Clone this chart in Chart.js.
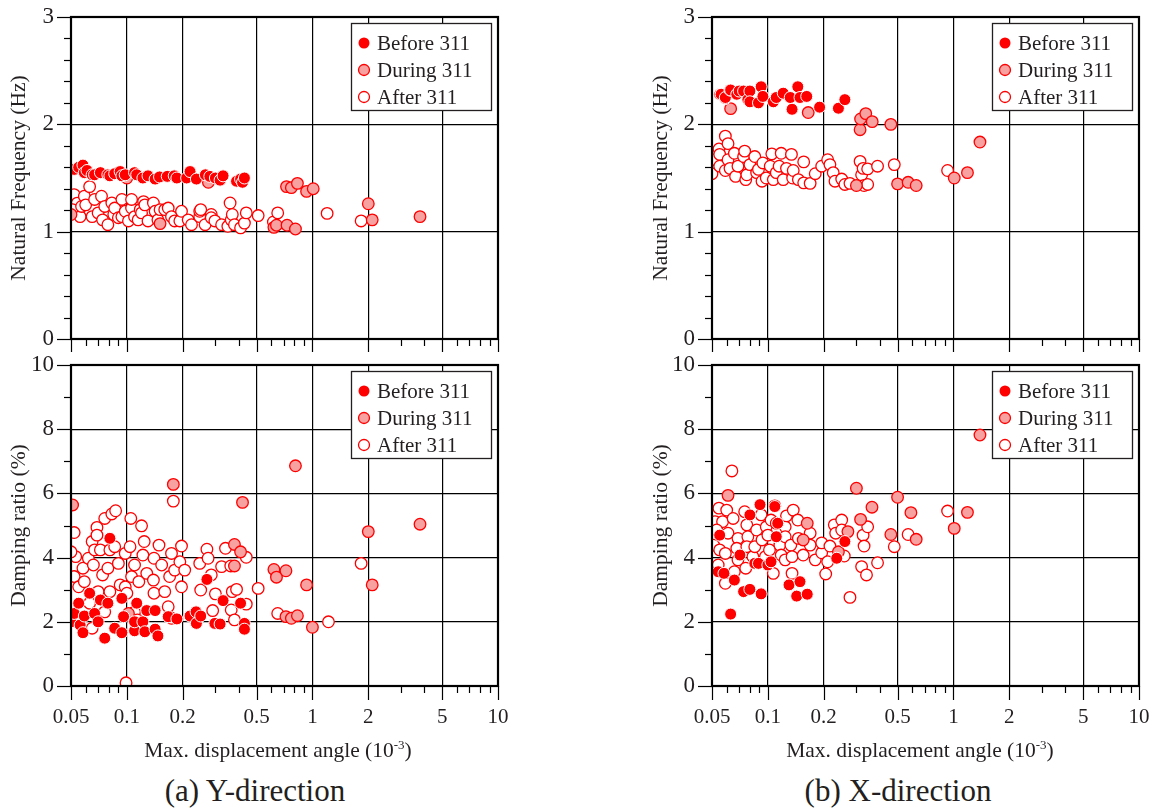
<!DOCTYPE html>
<html>
<head>
<meta charset="utf-8">
<script src="https://cdn.jsdelivr.net/npm/chart.js@4.4.1/dist/chart.umd.min.js"></script>
<style>
  body { margin: 0; background: #fff; }
  #page { position: relative; width: 1149px; height: 808px; background: #fff; overflow: hidden;
          font-family: 'Liberation Serif', 'Times New Roman', serif; color: #231f20; }
  canvas { position: absolute; }
  .xtitle, .caption { position: absolute; width: 400px; text-align: center; white-space: nowrap; line-height: 1; }
  .xtitle { font-size: 21.5px; top: 738px; }
  .xtitle sup { font-size: 13px; vertical-align: 8px; }
  .caption { font-size: 31px; top: 775px; }
</style>
</head>
<body>
<div id="page">
  <canvas id="yFreq"></canvas>
  <canvas id="yDamp"></canvas>
  <canvas id="xFreq"></canvas>
  <canvas id="xDamp"></canvas>
  <div class="xtitle" style="left:78px">Max. displacement angle (10<sup>-3</sup>)</div>
  <div class="xtitle" style="left:720px">Max. displacement angle (10<sup>-3</sup>)</div>
  <div class="caption" style="left:55px">(a) Y-direction</div>
  <div class="caption" style="left:698px">(b) X-direction</div>
</div>
<script>
const seriesNames = ['Before 311', 'During 311', 'After 311'];

const xMajorTicks = [0.05, 0.1, 0.2, 0.5, 1, 2, 5, 10];
const xMinorTicks = [0.06, 0.07, 0.08, 0.09, 0.3, 0.4, 0.6, 0.7, 0.8, 0.9, 3, 4, 6, 7, 8, 9];
const freqTicks = [0, 0.2, 0.4, 0.6, 0.8, 1, 1.2, 1.4, 1.6, 1.8, 2, 2.2, 2.4, 2.6, 2.8, 3];
const freqLabels = [0, 1, 2, 3];
const dampTicks = [0, 1, 2, 3, 4, 5, 6, 7, 8, 9, 10];
const dampLabels = [0, 2, 4, 6, 8, 10];

// Y-direction: [max. displacement angle (1e-3), natural frequency (Hz)]
const yFreqBefore = [[0.052,1.58],[0.055,1.60],[0.058,1.62],[0.059,1.55],[0.061,1.57],[0.065,1.53],[0.067,1.53],[0.072,1.55],
  [0.079,1.53],[0.081,1.52],[0.086,1.54],[0.092,1.56],[0.094,1.52],[0.098,1.53],[0.11,1.55],[0.113,1.53],[0.122,1.50],
  [0.13,1.52],[0.142,1.49],[0.15,1.51],[0.165,1.515],[0.18,1.52],[0.186,1.50],[0.21,1.50],[0.219,1.56],[0.237,1.49],
  [0.265,1.53],[0.28,1.515],[0.3,1.50],[0.318,1.48],[0.33,1.52],[0.39,1.47],[0.41,1.49],[0.42,1.46],[0.43,1.50]];
const yFreqDuring = [[0.05,1.16],[0.1,1.50],[0.151,1.075],[0.275,1.46],[0.62,1.04],[0.64,1.06],[0.725,1.42],[0.77,1.41],
  [0.73,1.06],[0.81,1.025],[0.83,1.45],[0.93,1.375],[1.01,1.40],[2.0,1.26],[2.1,1.11],[3.8,1.14]];
const yFreqAfter = [[0.052,1.345],[0.054,1.266],[0.051,1.205],[0.056,1.14],[0.057,1.235],[0.059,1.33],[0.06,1.25],[0.063,1.42],
  [0.065,1.14],[0.067,1.30],[0.07,1.175],[0.073,1.33],[0.074,1.11],[0.076,1.235],[0.079,1.065],[0.083,1.267],[0.085,1.16],
  [0.086,1.22],[0.09,1.13],[0.094,1.30],[0.094,1.14],[0.098,1.19],[0.102,1.10],[0.106,1.22],[0.106,1.30],[0.11,1.14],
  [0.115,1.11],[0.118,1.205],[0.12,1.175],[0.123,1.28],[0.125,1.25],[0.13,1.10],[0.139,1.267],[0.142,1.19],[0.147,1.11],
  [0.151,1.205],[0.16,1.205],[0.167,1.22],[0.174,1.14],[0.181,1.10],[0.193,1.10],[0.197,1.19],[0.214,1.11],[0.223,1.065],
  [0.247,1.14],[0.247,1.19],[0.25,1.205],[0.264,1.065],[0.285,1.16],[0.285,1.13],[0.298,1.10],[0.324,1.065],[0.35,1.05],
  [0.36,1.267],[0.365,1.11],[0.37,1.16],[0.38,1.065],[0.41,1.035],[0.43,1.08],[0.44,1.175],[0.51,1.15],[0.616,1.09],
  [0.65,1.175],[1.2,1.17],[1.83,1.10]];

// Y-direction: [max. displacement angle (1e-3), damping ratio (%)]
const yDampBefore = [[0.05,2.0],[0.052,2.26],[0.055,2.58],[0.056,1.9],[0.058,1.66],[0.059,2.18],[0.063,2.89],[0.067,2.26],
  [0.07,2.0],[0.072,2.68],[0.076,1.49],[0.079,2.58],[0.081,4.6],[0.086,1.80],[0.094,1.66],[0.094,2.73],[0.096,2.16],
  [0.11,1.72],[0.11,2.0],[0.113,2.58],[0.122,2.0],[0.125,1.69],[0.128,2.35],[0.142,1.77],[0.142,2.35],[0.147,1.56],
  [0.167,2.16],[0.186,2.09],[0.219,2.18],[0.236,2.31],[0.237,1.95],[0.25,2.18],[0.27,3.32],[0.298,1.95],[0.318,1.93],
  [0.33,2.66],[0.41,2.58],[0.43,1.95],[0.43,1.77]];
const yDampDuring = [[0.051,5.64],[0.102,2.26],[0.178,6.28],[0.38,4.41],[0.38,3.74],[0.41,4.18],[0.42,5.72],[0.62,3.63],
  [0.64,3.39],[0.72,3.59],[0.72,2.16],[0.77,2.11],[0.81,6.86],[0.83,2.19],[0.93,3.15],[1.0,1.83],[2.0,4.81],[2.1,3.15],[3.8,5.04]];
const yDampAfter = [[0.052,4.78],[0.053,4.03],[0.05,4.18],[0.052,3.41],[0.055,3.09],[0.059,3.25],[0.058,3.67],[0.062,3.98],
  [0.065,4.5],[0.069,4.94],[0.069,4.70],[0.067,4.24],[0.066,3.77],[0.07,2.94],[0.063,2.58],[0.065,1.80],[0.076,2.31],
  [0.076,5.22],[0.083,5.36],[0.087,5.46],[0.072,4.24],[0.074,3.46],[0.079,3.67],[0.081,4.24],[0.086,4.34],[0.09,3.82],
  [0.092,3.15],[0.081,2.94],[0.098,4.13],[0.098,3.09],[0.1,2.89],[0.104,4.34],[0.105,5.22],[0.106,3.41],[0.11,3.77],
  [0.11,2.31],[0.114,2.06],[0.116,3.25],[0.12,4.99],[0.122,4.08],[0.124,4.5],[0.128,3.51],[0.14,3.98],[0.139,3.30],
  [0.14,2.89],[0.149,4.39],[0.154,3.77],[0.16,2.94],[0.167,2.47],[0.17,3.41],[0.174,4.13],[0.181,3.61],[0.193,3.87],
  [0.197,4.36],[0.197,3.09],[0.205,3.61],[0.174,2.11],[0.247,3.82],[0.25,2.99],[0.27,4.26],[0.274,3.98],[0.285,3.46],
  [0.29,2.35],[0.3,2.87],[0.324,3.72],[0.34,4.29],[0.363,3.74],[0.37,2.94],[0.365,2.37],[0.39,3.01],[0.38,2.06],
  [0.44,4.01],[0.44,2.55],[0.099,0.1],[0.178,5.76],[0.51,3.04],[0.65,2.26],[1.22,2.0],[1.83,3.82]];

// X-direction: [max. displacement angle (1e-3), natural frequency (Hz)]
const xFreqBefore = [[0.055,2.28],[0.056,2.28],[0.059,2.24],[0.059,2.25],[0.0625,2.32],[0.063,2.32],[0.068,2.28],[0.07,2.31],
  [0.074,2.31],[0.078,2.23],[0.08,2.31],[0.08,2.21],[0.089,2.20],[0.092,2.35],[0.094,2.26],[0.107,2.21],[0.111,2.25],
  [0.121,2.29],[0.132,2.25],[0.135,2.14],[0.145,2.35],[0.149,2.25],[0.162,2.26],[0.19,2.16],[0.24,2.15],[0.26,2.23]];
const xFreqDuring = [[0.063,2.146],[0.165,2.11],[0.3,1.43],[0.314,1.95],[0.316,2.05],[0.337,2.10],[0.365,2.025],[0.46,2.0],
  [0.5,1.445],[0.57,1.46],[0.63,1.43],[1.01,1.50],[1.19,1.55],[1.39,1.835]];
const xFreqAfter = [[0.05,1.54],[0.052,1.67],[0.0545,1.77],[0.055,1.61],[0.055,1.72],[0.059,1.89],[0.059,1.57],[0.061,1.82],
  [0.061,1.67],[0.0625,1.59],[0.066,1.73],[0.067,1.515],[0.069,1.61],[0.074,1.70],[0.075,1.75],[0.076,1.485],[0.077,1.53],
  [0.08,1.625],[0.085,1.70],[0.087,1.55],[0.089,1.58],[0.093,1.47],[0.094,1.64],[0.098,1.50],[0.103,1.61],[0.105,1.725],
  [0.107,1.485],[0.111,1.55],[0.115,1.61],[0.118,1.73],[0.121,1.485],[0.126,1.59],[0.134,1.72],[0.136,1.50],[0.137,1.57],
  [0.146,1.485],[0.156,1.65],[0.156,1.455],[0.169,1.45],[0.18,1.54],[0.195,1.61],[0.21,1.67],[0.216,1.625],[0.225,1.55],
  [0.23,1.47],[0.25,1.49],[0.26,1.44],[0.277,1.45],[0.314,1.655],[0.32,1.53],[0.326,1.59],[0.33,1.43],[0.345,1.44],
  [0.345,1.585],[0.39,1.61],[0.48,1.625],[0.93,1.57]];

// X-direction: [max. displacement angle (1e-3), damping ratio (%)]
const xDampBefore = [[0.054,3.56],[0.055,4.70],[0.058,3.51],[0.063,2.24],[0.066,3.30],[0.0707,4.08],[0.074,2.94],[0.08,3.01],
  [0.08,5.33],[0.085,3.82],[0.089,3.82],[0.092,2.87],[0.0907,5.65],[0.1,3.77],[0.104,3.87],[0.109,5.59],[0.111,4.65],
  [0.113,5.07],[0.13,3.15],[0.143,2.80],[0.149,3.25],[0.163,2.86],[0.235,3.98],[0.26,4.50]];
const xDampDuring = [[0.061,5.94],[0.111,5.07],[0.155,4.55],[0.163,5.07],[0.24,4.18],[0.27,4.81],[0.3,6.16],[0.316,5.19],
  [0.364,5.57],[0.46,4.72],[0.5,5.88],[0.59,5.40],[0.63,4.57],[1.01,4.91],[1.19,5.41],[1.39,7.82]];
const xDampAfter = [[0.0545,5.54],[0.052,5.12],[0.057,5.12],[0.053,4.86],[0.051,4.39],[0.055,4.24],[0.054,3.77],[0.059,3.20],
  [0.06,5.48],[0.059,4.13],[0.064,6.70],[0.065,5.22],[0.061,4.76],[0.066,3.56],[0.069,4.60],[0.068,4.29],[0.069,3.93],
  [0.075,5.43],[0.077,5.02],[0.078,4.65],[0.077,4.34],[0.076,3.67],[0.083,4.03],[0.085,4.34],[0.087,4.86],[0.092,5.33],
  [0.093,4.55],[0.097,4.03],[0.098,4.96],[0.1,4.70],[0.102,4.24],[0.104,5.17],[0.107,3.51],[0.109,5.61],[0.116,4.39],
  [0.118,4.08],[0.124,4.96],[0.124,3.93],[0.126,5.30],[0.124,4.65],[0.133,4.39],[0.135,4.03],[0.135,3.51],[0.137,5.48],
  [0.145,5.17],[0.146,4.60],[0.155,4.08],[0.169,4.76],[0.169,4.39],[0.18,3.93],[0.195,4.15],[0.195,4.46],[0.205,3.49],
  [0.21,3.87],[0.216,4.36],[0.228,5.02],[0.232,4.76],[0.25,5.17],[0.25,4.86],[0.258,4.05],[0.277,2.76],[0.32,3.72],
  [0.326,4.70],[0.33,4.36],[0.34,3.46],[0.345,4.96],[0.39,3.84],[0.48,4.34],[0.57,4.72],[0.93,5.45]];

const FONT = "'Liberation Serif', 'Times New Roman', serif";
const INK = '#231f20';

// before: solid red, during: pink with red rim, after: hollow red
const markerStyles = [
  { backgroundColor: '#ff0000', borderColor: '#ffffff', borderWidth: 1, pointRadius: 6 },
  { backgroundColor: '#f7a1a1', borderColor: '#ff0000', borderWidth: 1.3, pointRadius: 5.8 },
  { backgroundColor: '#ffffff', borderColor: '#ff0000', borderWidth: 1.3, pointRadius: 5.8 }
];

function strokeLine(ctx, x1, y1, x2, y2) {
  ctx.beginPath();
  ctx.moveTo(x1, y1);
  ctx.lineTo(x2, y2);
  ctx.stroke();
}

// outward tick marks and the heavy frame round the plot area
const frameTicks = {
  id: 'frameTicks',
  afterDraw(chart, args, opts) {
    const { ctx, chartArea: a, scales: { x, y } } = chart;
    ctx.save();
    ctx.strokeStyle = '#000';
    ctx.lineWidth = 1.2;
    x.ticks.forEach(t => {
      const px = Math.round(x.getPixelForValue(t.value)) + 0.5;
      const len = xMajorTicks.includes(t.value) ? 14 : 7;
      strokeLine(ctx, px, a.bottom, px, a.bottom + len);
    });
    y.ticks.forEach(t => {
      const py = Math.round(y.getPixelForValue(t.value)) + 0.5;
      const len = opts.yLabels.includes(t.value) ? 14 : 7;
      strokeLine(ctx, a.left - len, py, a.left, py);
    });
    ctx.lineWidth = 2.2;
    ctx.strokeRect(a.left, a.top, a.right - a.left, a.bottom - a.top);
    ctx.restore();
  }
};

// boxed legend in the upper right corner of the plot area
const boxLegend = {
  id: 'boxLegend',
  afterDraw(chart) {
    const { ctx, chartArea: a } = chart;
    const w = 140, h = 87;
    const left = a.right - 7 - w, top = a.top + 6;
    ctx.save();
    ctx.fillStyle = '#fff';
    ctx.fillRect(left, top, w, h);
    ctx.strokeStyle = INK;
    ctx.lineWidth = 1.3;
    ctx.strokeRect(left + 0.5, top + 0.5, w, h);
    chart.data.datasets.forEach((ds, i) => {
      const cy = top + 20 + i * 27;
      ctx.beginPath();
      ctx.arc(left + 13, cy, 5.5, 0, Math.PI * 2);
      ctx.fillStyle = ds.backgroundColor;
      ctx.fill();
      if (i > 0) {
        ctx.strokeStyle = ds.borderColor;
        ctx.lineWidth = 1.3;
        ctx.stroke();
      }
      ctx.fillStyle = INK;
      ctx.font = '21px ' + FONT;
      ctx.textBaseline = 'middle';
      ctx.fillText(ds.label, left + 26, cy + 1);
    });
    ctx.restore();
  }
};

function makePanel(id, rect, area, kind, showXLabels, series) {
  const canvas = document.getElementById(id);
  canvas.width = rect.w;
  canvas.height = rect.h;
  canvas.style.left = rect.left + 'px';
  canvas.style.top = rect.top + 'px';

  const isFreq = kind === 'freq';
  const yTicks = isFreq ? freqTicks : dampTicks;
  const yLabels = isFreq ? freqLabels : dampLabels;

  return new Chart(canvas, {
    type: 'scatter',
    data: {
      datasets: series.map((pts, i) => Object.assign({
        label: seriesNames[i],
        data: pts.map(p => ({ x: p[0], y: p[1] })),
        pointHoverRadius: markerStyles[i].pointRadius,
        clip: 0
      }, markerStyles[i]))
    },
    options: {
      responsive: false,
      animation: false,
      devicePixelRatio: 1,
      events: [],
      layout: { padding: { top: area.y0 - rect.top, right: rect.left + rect.w - area.x1, left: 0, bottom: 0 } },
      plugins: {
        legend: { display: false },
        tooltip: { enabled: false },
        frameTicks: { yLabels: yLabels }
      },
      scales: {
        x: {
          type: 'logarithmic',
          min: 0.05,
          max: 10,
          afterBuildTicks: s => {
            s.ticks = xMajorTicks.concat(xMinorTicks).sort((a, b) => a - b).map(v => ({ value: v }));
          },
          afterFit: s => {
            s.height = rect.top + rect.h - area.y1;
            s.paddingLeft = 0;
            s.paddingRight = 0;
          },
          border: { display: false },
          grid: {
            drawTicks: false,
            lineWidth: 1.2,
            color: c => (c.tick && xMajorTicks.includes(c.tick.value)) ? '#000' : 'rgba(0,0,0,0)'
          },
          ticks: {
            display: showXLabels,
            autoSkip: false,
            maxRotation: 0,
            padding: 19,
            color: INK,
            font: { family: FONT, size: 21 },
            callback: v => xMajorTicks.includes(v) ? String(v) : ''
          }
        },
        y: {
          min: 0,
          max: isFreq ? 3 : 10,
          afterBuildTicks: s => { s.ticks = yTicks.map(v => ({ value: v })); },
          afterFit: s => {
            s.width = area.x0 - rect.left;
            s.paddingTop = 0;
            s.paddingBottom = 0;
          },
          border: { display: false },
          grid: {
            drawTicks: false,
            lineWidth: 1.2,
            color: c => (c.tick && yLabels.includes(c.tick.value)) ? '#000' : 'rgba(0,0,0,0)'
          },
          title: {
            display: true,
            text: isFreq ? 'Natural Frequency (Hz)' : 'Damping ratio (%)',
            color: INK,
            font: { family: FONT, size: 21.5 },
            padding: { top: area.titleX - rect.left - 13, bottom: 0 }
          },
          ticks: {
            autoSkip: false,
            padding: 17,
            color: INK,
            font: { family: FONT, size: 23 },
            callback: v => yLabels.includes(v) ? String(v) : ''
          }
        }
      }
    },
    plugins: [frameTicks, boxLegend]
  });
}

const leftCol = { x0: 71, x1: 498, titleX: 19 };
const rightCol = { x0: 712, x1: 1139, titleX: 661 };
const topRow = { y0: 17, y1: 339 };
const bottomRow = { y0: 365, y1: 686 };

makePanel('yFreq', { left: 0, top: 0, w: 515, h: 352 }, Object.assign({}, leftCol, topRow), 'freq', false,
  [yFreqBefore, yFreqDuring, yFreqAfter]);
makePanel('yDamp', { left: 0, top: 352, w: 515, h: 388 }, Object.assign({}, leftCol, bottomRow), 'damp', true,
  [yDampBefore, yDampDuring, yDampAfter]);
makePanel('xFreq', { left: 630, top: 0, w: 519, h: 352 }, Object.assign({}, rightCol, topRow), 'freq', false,
  [xFreqBefore, xFreqDuring, xFreqAfter]);
makePanel('xDamp', { left: 630, top: 352, w: 519, h: 388 }, Object.assign({}, rightCol, bottomRow), 'damp', true,
  [xDampBefore, xDampDuring, xDampAfter]);
</script>
</body>
</html>
